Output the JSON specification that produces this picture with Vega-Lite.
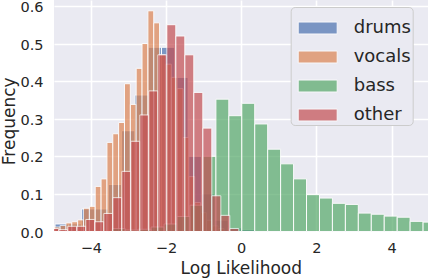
{
  "$schema": "https://vega.github.io/schema/vega-lite/v6.json",
  "width": 374,
  "height": 231.5,
  "autosize": {"type": "none"},
  "padding": {"left": 54, "top": 0, "right": 0, "bottom": 46.5},
  "background": "white",
  "config": {
    "font": "DejaVu Sans",
    "view": {"stroke": null, "fill": "#eaeaf2"},
    "axis": {
      "domain": false, "ticks": false, "grid": true, "gridColor": "white", "gridWidth": 1.6,
      "labelColor": "#262626", "labelFontSize": 14.5, "titleColor": "#262626",
      "titleFontSize": 17, "titleFontWeight": "normal"
    }
  },
  "data": {"values": [
    {"s":"drums","a":-5.306,"b":-4.952,"h":0.005},
    {"s":"drums","a":-4.952,"b":-4.598,"h":0.02},
    {"s":"drums","a":-4.598,"b":-4.244,"h":0.02},
    {"s":"drums","a":-4.244,"b":-3.890,"h":0.06},
    {"s":"drums","a":-3.890,"b":-3.536,"h":0.06},
    {"s":"drums","a":-3.536,"b":-3.182,"h":0.125},
    {"s":"drums","a":-3.182,"b":-2.828,"h":0.268},
    {"s":"drums","a":-2.828,"b":-2.474,"h":0.363},
    {"s":"drums","a":-2.474,"b":-2.120,"h":0.49},
    {"s":"drums","a":-2.120,"b":-1.766,"h":0.49},
    {"s":"drums","a":-1.766,"b":-1.412,"h":0.41},
    {"s":"drums","a":-1.412,"b":-1.058,"h":0.2},
    {"s":"drums","a":-1.058,"b":-0.704,"h":0.1},
    {"s":"drums","a":-0.704,"b":-0.350,"h":0.03},
    {"s":"drums","a":-0.350,"b":0.004,"h":0.01},
    {"s":"drums","a":0.004,"b":0.358,"h":0.005},
    {"s":"vocals","a":-5.130,"b":-4.974,"h":0.01},
    {"s":"vocals","a":-4.974,"b":-4.818,"h":0.012},
    {"s":"vocals","a":-4.818,"b":-4.663,"h":0.016},
    {"s":"vocals","a":-4.663,"b":-4.507,"h":0.023},
    {"s":"vocals","a":-4.507,"b":-4.351,"h":0.026},
    {"s":"vocals","a":-4.351,"b":-4.195,"h":0.031},
    {"s":"vocals","a":-4.195,"b":-4.039,"h":0.062},
    {"s":"vocals","a":-4.039,"b":-3.884,"h":0.067},
    {"s":"vocals","a":-3.884,"b":-3.728,"h":0.12},
    {"s":"vocals","a":-3.728,"b":-3.572,"h":0.14},
    {"s":"vocals","a":-3.572,"b":-3.416,"h":0.237},
    {"s":"vocals","a":-3.416,"b":-3.261,"h":0.26},
    {"s":"vocals","a":-3.261,"b":-3.105,"h":0.29},
    {"s":"vocals","a":-3.105,"b":-2.949,"h":0.393},
    {"s":"vocals","a":-2.949,"b":-2.794,"h":0.338},
    {"s":"vocals","a":-2.794,"b":-2.638,"h":0.434},
    {"s":"vocals","a":-2.638,"b":-2.482,"h":0.5},
    {"s":"vocals","a":-2.482,"b":-2.326,"h":0.587},
    {"s":"vocals","a":-2.326,"b":-2.171,"h":0.555},
    {"s":"vocals","a":-2.171,"b":-2.015,"h":0.47},
    {"s":"vocals","a":-2.015,"b":-1.859,"h":0.445},
    {"s":"vocals","a":-1.859,"b":-1.703,"h":0.41},
    {"s":"vocals","a":-1.703,"b":-1.548,"h":0.38},
    {"s":"vocals","a":-1.548,"b":-1.392,"h":0.25},
    {"s":"vocals","a":-1.392,"b":-1.236,"h":0.146},
    {"s":"vocals","a":-1.236,"b":-1.080,"h":0.077},
    {"s":"vocals","a":-1.080,"b":-0.925,"h":0.05},
    {"s":"vocals","a":-0.925,"b":-0.769,"h":0.03},
    {"s":"vocals","a":-0.769,"b":-0.613,"h":0.015},
    {"s":"vocals","a":-0.613,"b":-0.457,"h":0.008},
    {"s":"bass","a":-3.429,"b":-3.085,"h":0.008},
    {"s":"bass","a":-3.085,"b":-2.740,"h":0.004},
    {"s":"bass","a":-2.740,"b":-2.396,"h":0.006},
    {"s":"bass","a":-2.396,"b":-2.051,"h":0.012},
    {"s":"bass","a":-2.051,"b":-1.707,"h":0.02},
    {"s":"bass","a":-1.707,"b":-1.362,"h":0.04},
    {"s":"bass","a":-1.362,"b":-1.018,"h":0.07},
    {"s":"bass","a":-1.018,"b":-0.673,"h":0.2},
    {"s":"bass","a":-0.673,"b":-0.329,"h":0.352},
    {"s":"bass","a":-0.329,"b":0.016,"h":0.308},
    {"s":"bass","a":0.016,"b":0.360,"h":0.341},
    {"s":"bass","a":0.360,"b":0.705,"h":0.286},
    {"s":"bass","a":0.705,"b":1.049,"h":0.219},
    {"s":"bass","a":1.049,"b":1.394,"h":0.18},
    {"s":"bass","a":1.394,"b":1.738,"h":0.14},
    {"s":"bass","a":1.738,"b":2.083,"h":0.098},
    {"s":"bass","a":2.083,"b":2.427,"h":0.089},
    {"s":"bass","a":2.427,"b":2.772,"h":0.075},
    {"s":"bass","a":2.772,"b":3.116,"h":0.072},
    {"s":"bass","a":3.116,"b":3.461,"h":0.049},
    {"s":"bass","a":3.461,"b":3.805,"h":0.046},
    {"s":"bass","a":3.805,"b":4.150,"h":0.041},
    {"s":"bass","a":4.150,"b":4.494,"h":0.038},
    {"s":"bass","a":4.494,"b":4.839,"h":0.027},
    {"s":"bass","a":4.839,"b":5.183,"h":0.025},
    {"s":"other","a":-5.093,"b":-4.853,"h":0.008},
    {"s":"other","a":-4.853,"b":-4.614,"h":0.005},
    {"s":"other","a":-4.614,"b":-4.374,"h":0.014},
    {"s":"other","a":-4.374,"b":-4.135,"h":0.014},
    {"s":"other","a":-4.135,"b":-3.895,"h":0.032},
    {"s":"other","a":-3.895,"b":-3.655,"h":0.026},
    {"s":"other","a":-3.655,"b":-3.416,"h":0.048},
    {"s":"other","a":-3.416,"b":-3.176,"h":0.09},
    {"s":"other","a":-3.176,"b":-2.937,"h":0.16},
    {"s":"other","a":-2.937,"b":-2.697,"h":0.24},
    {"s":"other","a":-2.697,"b":-2.458,"h":0.31},
    {"s":"other","a":-2.458,"b":-2.218,"h":0.374},
    {"s":"other","a":-2.218,"b":-1.979,"h":0.47},
    {"s":"other","a":-1.979,"b":-1.739,"h":0.55},
    {"s":"other","a":-1.739,"b":-1.499,"h":0.52},
    {"s":"other","a":-1.499,"b":-1.260,"h":0.47},
    {"s":"other","a":-1.260,"b":-1.020,"h":0.37},
    {"s":"other","a":-1.020,"b":-0.781,"h":0.275},
    {"s":"other","a":-0.781,"b":-0.541,"h":0.095},
    {"s":"other","a":-0.541,"b":-0.302,"h":0.043},
    {"s":"other","a":-0.302,"b":-0.062,"h":0.008}
  ]},
  "mark": {"type": "rect", "opacity": 0.7, "stroke": "white", "strokeWidth": 1, "clip": true},
  "encoding": {
    "x": {
      "field": "a", "type": "quantitative",
      "scale": {"domain": [-4.98, 4.97], "nice": false, "zero": false},
      "axis": {"values": [-4, -2, 0, 2, 4], "labelPadding": 10, "title": "Log Likelihood",
               "titleX": 186.8, "titleY": 41.8, "titleBaseline": "alphabetic", "titleAlign": "center"}
    },
    "x2": {"field": "b"},
    "y": {
      "field": "h", "type": "quantitative",
      "scale": {"domain": [0, 0.6157], "nice": false},
      "axis": {"values": [0, 0.1, 0.2, 0.3, 0.4, 0.5, 0.6], "format": ".1f", "labelPadding": 11,
               "labelOffset": 1.5,
               "title": "Frequency", "titleX": -39.5, "titleY": 120.8, "titleAngle": -90,
               "titleBaseline": "alphabetic", "titleAlign": "center"}
    },
    "y2": {"datum": 0},
    "color": {
      "field": "s", "type": "nominal",
      "scale": {"domain": ["drums", "vocals", "bass", "other"], "range": ["#4c72b0", "#dd8452", "#55a868", "#c44e52"]},
      "legend": {
        "title": null, "orient": "none", "legendX": 236.7, "legendY": 7,
        "fillColor": "#eaeaf2", "strokeColor": "#cccccc", "cornerRadius": 4, "padding": 1,
        "symbolOffset": 6,
        "symbolType": "M-1,-0.3077L1,-0.3077L1,0.3077L-1,0.3077Z", "symbolSize": 1521,
        "symbolOpacity": 0.7, "symbolStrokeColor": "white", "symbolStrokeWidth": 1,
        "labelFontSize": 18, "labelColor": "#262626", "labelOffset": 16, "rowPadding": -1.8,
        "labelLimit": 200
      }
    }
  }
}
